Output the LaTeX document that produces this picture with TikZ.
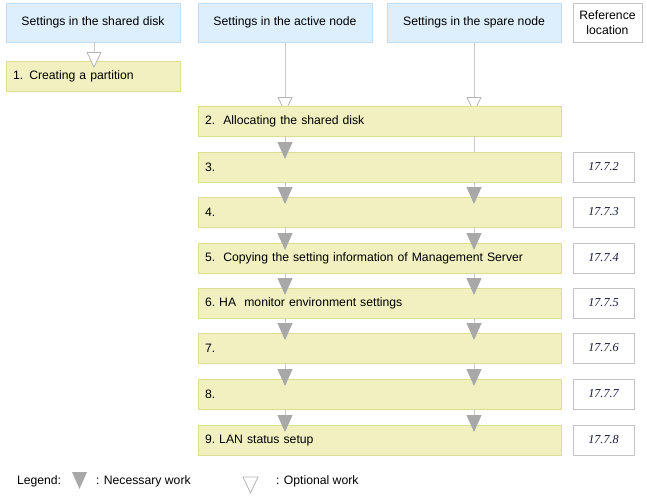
\documentclass[tikz,border=0pt]{standalone}
\usepackage{fontspec}
\setmainfont{Liberation Sans}
\newfontfamily\reffont{Liberation Serif}
\usetikzlibrary{arrows.meta,backgrounds}
\definecolor{hdrfill}{HTML}{DDEEFC}
\definecolor{hdrline}{HTML}{BFDDF5}
\definecolor{stepfill}{HTML}{F0F0C0}
\definecolor{stepline}{HTML}{DEDE90}
\definecolor{lncol}{HTML}{C8C8C8}
\definecolor{tipcol}{HTML}{A8A8A8}
\definecolor{optcol}{HTML}{B4B4B4}
\definecolor{refline}{HTML}{C4C4C4}
\definecolor{reftext}{HTML}{1A1A40}
\tikzset{
  x=1pt, y=-1pt,
  every node/.style={font=\fontsize{12.2}{14.5}\selectfont, inner sep=0pt, outer sep=0pt},
  hdr/.style={draw=hdrline, fill=hdrfill, line width=1pt, minimum height=39pt, align=center},
  stepbox/.style={draw=stepline, fill=stepfill, line width=1pt, minimum height=30pt, text width=#1, align=left, inner xsep=7pt},
  refbox/.style={draw=refline, fill=white, line width=1pt, minimum width=61pt, minimum height=30pt, font=\reffont\itshape\fontsize{12.2}{14.5}\selectfont, text=reftext},
  nec/.style={draw=lncol, line width=1pt, -{Triangle[width=15pt,length=17pt,color=tipcol]}},
  opt/.style={draw=lncol, line width=1pt, -{Triangle[width=15pt,length=16pt,fill=white,color=optcol,line width=0.8pt]}},
  plain/.style={draw=lncol, line width=1pt}
}
\begin{document}
\begin{tikzpicture}
\useasboundingbox (0,0) rectangle (647,496);
% headers
\node[hdr, minimum width=174pt, anchor=north west] (hS) at (6,3) {Settings in the shared disk};
\node[hdr, minimum width=174pt, anchor=north west] (hA) at (198,3) {Settings in the active node};
\node[hdr, minimum width=174pt, anchor=north west] (hP) at (387,3) {Settings in the spare node};
\node[draw=refline, fill=white, line width=1pt, minimum width=69pt, minimum height=39pt, align=center, anchor=north west] (hR) at (573,3) {Reference\\location};
\coordinate (cA) at (285,0);
\coordinate (cP) at (474,0);
% box 1
\node[stepbox=160pt, anchor=north west] (b1) at (6,61) {1. Creating a partition};
\draw[opt] (hS.south -| 94,0) -- ([yshift=-7pt]b1.north -| 94,0);
% box 2
\node[stepbox=349pt, anchor=north west] (b2) at (198,106) {2.\ \ Allocating the shared disk};
\begin{scope}[on background layer]
\draw[opt] (hA.south -| cA) -- ([yshift=-7pt]b2.north -| cA);
\draw[opt] (hP.south -| cP) -- ([yshift=-7pt]b2.north -| cP);
\end{scope}
% boxes 3-9
\node[stepbox=349pt, anchor=north west] (b3) at (198,152) {3.};
\node[stepbox=349pt, anchor=north west] (b4) at (198,197) {4.};
\node[stepbox=349pt, anchor=north west] (b5) at (198,243) {5.\ \ Copying the setting information of Management Server};
\node[stepbox=349pt, anchor=north west] (b6) at (198,288) {6.\ HA\ \ monitor environment settings};
\node[stepbox=349pt, anchor=north west] (b7) at (198,333) {7.};
\node[stepbox=349pt, anchor=north west] (b8) at (198,379) {8.};
\node[stepbox=349pt, anchor=north west] (b9) at (198,425) {9.\ LAN status setup};
% reference boxes
\node[refbox, anchor=north west] (r3) at (573,152) {17.7.2};
\node[refbox, anchor=north west] (r4) at (573,197) {17.7.3};
\node[refbox, anchor=north west] (r5) at (573,243) {17.7.4};
\node[refbox, anchor=north west] (r6) at (573,288) {17.7.5};
\node[refbox, anchor=north west] (r7) at (573,333) {17.7.6};
\node[refbox, anchor=north west] (r8) at (573,379) {17.7.7};
\node[refbox, anchor=north west] (r9) at (573,425) {17.7.8};
% connectors
\foreach \a/\b in {b2/b3,b3/b4,b4/b5,b5/b6,b6/b7,b7/b8,b8/b9}
  \draw[nec] (\a.south -| cA) -- ([yshift=-7pt]\b.north -| cA);
\draw[plain] (b2.south -| cP) -- (b3.north -| cP);
\foreach \a/\b in {b3/b4,b4/b5,b5/b6,b6/b7,b7/b8,b8/b9}
  \draw[nec] (\a.south -| cP) -- ([yshift=-7pt]\b.north -| cP);
% legend
\node[anchor=west] (lg) at (17,481) {Legend:};
\fill[tipcol] (72,472) -- (87,472) -- (79.5,489) -- cycle;
\node[anchor=west] (ln) at (96,481) {: Necessary work};
\filldraw[fill=white, draw=optcol, line width=0.8pt] (243,477) -- (258,477) -- (250.5,493) -- cycle;
\node[anchor=west] (lo) at (276,481) {: Optional work};
\end{tikzpicture}
\end{document}
